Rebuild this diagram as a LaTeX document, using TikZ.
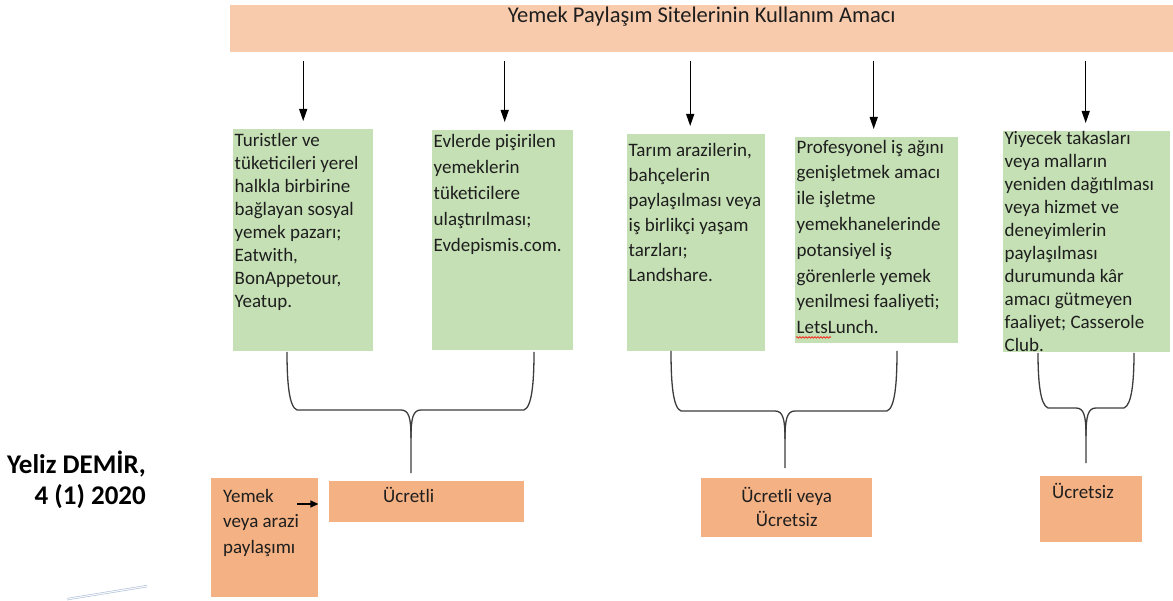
\documentclass[tikz,border=0pt]{standalone}
\usepackage{fontspec}
\setmainfont{Carlito}
\usepackage{tikz}
\usetikzlibrary{arrows.meta}
\usetikzlibrary{decorations.pathmorphing}

\definecolor{headfill}{HTML}{F8CBAD}
\definecolor{greenfill}{HTML}{C5E0B4}
\definecolor{orangefill}{HTML}{F4B183}
\definecolor{inkdark}{HTML}{1E1E1E}
\definecolor{bracegray}{HTML}{3C3C3C}
\definecolor{rulelight}{HTML}{B4C3DA}

% text cell: width, height, first baseline, line skip, text
\newcommand{\cellbox}[5]{\parbox[c][#2pt][t]{#1pt}{\fontsize{19}{#4}\selectfont
\raggedright\rule{0pt}{#3pt}#5}}

% curly brace: left x, right x, top y, bar y, tip x, end y
\newcommand{\curlybrace}[6]{%
\draw[bracestyle] (#1,#3) .. controls (#1,#4-28) and (#1+2,#4-3) .. (#1+10,#4)
  -- (#5-10,#4) .. controls (#5-2,#4) and (#5,#4+8) .. (#5,#4+28) -- (#5,#6);
\draw[bracestyle] (#2,#3) .. controls (#2,#4-28) and (#2-2,#4-3) .. (#2-10,#4)
  -- (#5+10,#4) .. controls (#5+2,#4) and (#5,#4+8) .. (#5,#4+28);}

\begin{document}
\begin{tikzpicture}[x=1pt,y=-1pt,text=inkdark,
headbox/.style={fill=headfill,anchor=north west,inner sep=0pt},
greenbox/.style={fill=greenfill,anchor=north west,inner xsep=1.5pt,inner ysep=0pt},
orangebox/.style={fill=orangefill,anchor=north west,inner ysep=0pt},
downarrow/.style={-{Triangle[length=12pt,width=8pt]},line width=1.3pt,
  shorten <=9pt,shorten >=8pt},
smallarrow/.style={-{Triangle[length=8pt,width=7pt]},line width=1.3pt},
bracestyle/.style={draw=bracegray,line width=1.3pt},
spellwave/.style={red,line width=0.6pt,decorate,
  decoration={snake,amplitude=0.8pt,segment length=3pt}},
authorlabel/.style={font=\fontsize{27}{30}\selectfont\bfseries,text=black,inner sep=0pt}]
\useasboundingbox (0,0) rectangle (1173,601);

\node[headbox] (head) at (230,5) {\parbox[c][47pt][t]{943pt}{\centering
  \fontsize{22.5}{26}\selectfont\rule{0pt}{17pt}Yemek Paylaşım Sitelerinin Kullanım Amacı}};

\node[greenbox] (g1) at (233,129) {\cellbox{137}{222}{17}{23}{Turistler ve\\
  tüketicileri yerel\\ halkla birbirine\\ bağlayan sosyal\\ yemek pazarı;\\
  Eatwith,\\ BonAppetour,\\ Yeatup.}};
\node[greenbox] (g2) at (432,130) {\cellbox{138}{220}{17}{26}{Evlerde pişirilen\\
  yemeklerin\\ tüketicilere\\ ulaştırılması;\\ Evdepismis.com.}};
\node[greenbox] (g3) at (627,134) {\cellbox{135}{217}{22}{25}{Tarım arazilerin,\\
  bahçelerin\\ paylaşılması veya\\ iş birlikçi yaşam\\ tarzları;\\ Landshare.}};
\node[greenbox] (g4) at (795,137) {\cellbox{160}{206}{16}{25.8}{Profesyonel iş ağını\\
  genişletmek amacı\\ ile işletme\\ yemekhanelerinde\\ potansiyel iş\\
  görenlerle yemek\\ yenilmesi faaliyeti;\\ LetsLunch.}};
\node[greenbox] (g5) at (1003,131) {\cellbox{164}{221}{13}{23}{Yiyecek takasları\\
  veya malların\\ yeniden dağıtılması\\ veya hizmet ve\\ deneyimlerin\\
  paylaşılması\\ durumunda kâr\\ amacı gütmeyen\\ faaliyet; Casserole\\ Club.}};

% spelling mark under Lets
\draw[spellwave] ([shift={(1,-6)}]g4.south west) -- ++(35,0);

\foreach \g/\dx in {g1/0,g2/2,g3/-6,g4/-3,g5/-1}
  \draw[downarrow] ([xshift=\dx pt]\g.north |- head.south) -- ([xshift=\dx pt]\g.north);

\curlybrace{287}{534}{352}{410}{411}{473}
\curlybrace{671}{897}{351}{411}{785}{468}
\curlybrace{1038}{1134}{353}{408}{1086}{463}

\node[orangebox,inner xsep=12pt] (o0) at (211,478) {\cellbox{83}{119}{24}{25.5}{Yemek\\
  veya arazi\\ paylaşımı}};
\node[orangebox,inner xsep=54pt] (o1) at (329,481) {\cellbox{87}{41}{21}{23}{Ücretli}};
\node[orangebox,inner xsep=2pt] (o2) at (701,478) {\cellbox{167}{59}{24}{24}{\centering
  Ücretli veya\\ Ücretsiz}};
\node[orangebox,inner xsep=12pt] (o3) at (1040,476) {\cellbox{78}{66}{22}{23}{Ücretsiz}};

\coordinate (arrowstart) at (297,504);
\draw[smallarrow] (arrowstart) -- (arrowstart -| o0.east);

\node[authorlabel,anchor=base east] (auth1) at (146,474) {Yeliz DEMİR,};
\node[authorlabel,anchor=base east] (auth2) at (146,504) {4 (1) 2020};

\draw[rulelight,line width=0.6pt] (67,600) -- (147,587);
\draw[rulelight,line width=0.6pt] (67,598.3) -- (147,585.3);
\end{tikzpicture}
\end{document}
